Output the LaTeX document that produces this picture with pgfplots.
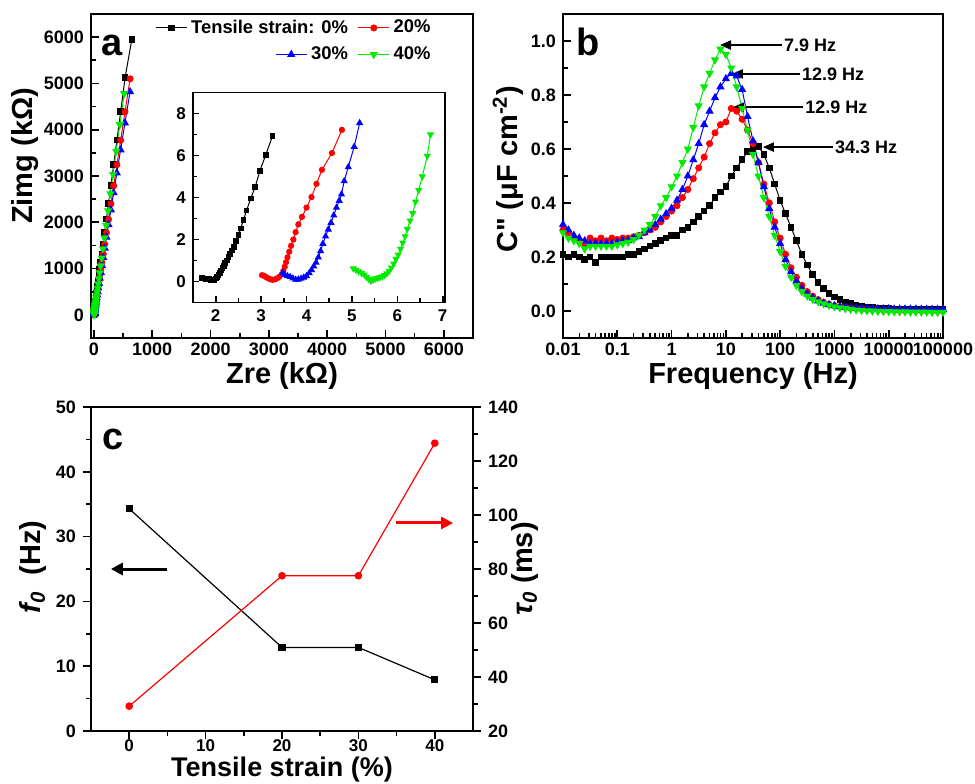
\documentclass[border=0pt]{standalone}
\usepackage{fontspec}
\setmainfont{Liberation Sans}
\newfontfamily\rawsans{Liberation Sans}
\usepackage{pgfplots}
\usepackage{pgfplotstable}
\pgfplotsset{compat=1.18}
\usetikzlibrary{arrows.meta}

\newcommand\tickfont{\bfseries\fontsize{9}{10}\selectfont}
\newcommand\labfont{\bfseries\fontsize{14.5}{16}\selectfont}
\newcommand\letfont{\bfseries\fontsize{19}{20}\selectfont}
\newcommand\annfont{\bfseries\fontsize{9}{10}\selectfont}
\newcommand\legfont{\bfseries\fontsize{9.2}{10}\selectfont}

\definecolor{cR}{RGB}{255,0,0}
\definecolor{cB}{RGB}{0,0,255}
\definecolor{cG}{RGB}{0,235,0}

\pgfplotsset{
  panel/.style={
    scale only axis,
    /pgf/number format/assume math mode=true,
    /pgf/number format/1000 sep={},
    ticklabel style={font=\tickfont},
    label style={font=\labfont},
    axis line style={line width=1pt},
    every tick/.style={black, line width=0.8pt},
    major tick length=4pt,
    minor tick length=2.5pt,
    tick align=inside,
  },
  s0/.style={black, line width=0.5pt, mark=square*, mark size=1.4pt},
  s20/.style={cR, line width=0.5pt, mark=*, mark size=1.5pt},
  s30/.style={cB, line width=0.5pt, mark=triangle*, mark size=1.9pt},
  s40/.style={cG, line width=0.5pt, mark=triangle*, mark size=1.9pt, mark options={rotate=180}},
  shortleg/.style={
    legend image code/.code={\draw[mark repeat=2,mark phase=2] plot coordinates {(0cm,0cm) (0.27cm,0cm) (0.54cm,0cm)};}},
}

% C'' spectra, f in Hz
\pgfplotstableread{
f C0 C20 C30 C40
1e-2 0.21 0.30 0.32 0.29
1.259e-2 0.20 0.29 0.30 0.27
1.585e-2 0.21 0.27 0.28 0.26
1.995e-2 0.20 0.26 0.27 0.25
2.512e-2 0.19 0.25 0.26 0.23
3.162e-2 0.20 0.27 0.25 0.24
3.981e-2 0.18 0.26 0.25 0.24
5.012e-2 0.20 0.27 0.25 0.24
6.310e-2 0.20 0.26 0.25 0.24
7.943e-2 0.20 0.27 0.25 0.24
1e-1 0.20 0.265 0.255 0.245
1.259e-1 0.20 0.27 0.26 0.25
1.585e-1 0.21 0.27 0.26 0.255
1.995e-1 0.21 0.275 0.27 0.265
2.512e-1 0.22 0.28 0.275 0.28
3.162e-1 0.23 0.29 0.29 0.30
3.981e-1 0.24 0.30 0.30 0.32
5.012e-1 0.25 0.31 0.32 0.35
6.310e-1 0.26 0.33 0.34 0.39
7.943e-1 0.27 0.35 0.36 0.42
1 0.28 0.37 0.38 0.46
1.259 0.28 0.39 0.41 0.50
1.585 0.30 0.42 0.45 0.55
1.995 0.31 0.45 0.50 0.60
2.512 0.33 0.49 0.56 0.68
3.162 0.35 0.53 0.62 0.76
3.981 0.37 0.57 0.69 0.83
5.012 0.39 0.62 0.74 0.88
6.310 0.42 0.66 0.79 0.93
7.943 0.44 0.69 0.83 0.97
10 0.46 0.70 0.86 0.95
12.59 0.50 0.75 0.88 0.90
15.85 0.53 0.74 0.87 0.83
19.95 0.56 0.71 0.82 0.75
25.12 0.59 0.67 0.72 0.67
31.62 0.60 0.62 0.63 0.58
39.81 0.61 0.55 0.55 0.50
50.12 0.58 0.47 0.46 0.42
63.10 0.53 0.40 0.38 0.35
79.43 0.47 0.33 0.31 0.28
100 0.41 0.27 0.25 0.22
125.9 0.36 0.21 0.19 0.165
158.5 0.31 0.16 0.145 0.125
199.5 0.26 0.125 0.11 0.095
251.2 0.21 0.095 0.083 0.072
316.2 0.17 0.072 0.063 0.055
398.1 0.135 0.055 0.048 0.043
501.2 0.105 0.042 0.037 0.034
631.0 0.083 0.032 0.029 0.027
794.3 0.065 0.025 0.023 0.021
1000 0.052 0.020 0.019 0.016
1259 0.042 0.016 0.016 0.012
1585 0.034 0.013 0.014 0.009
1995 0.027 0.011 0.012 0.006
2512 0.022 0.009 0.011 0.004
3162 0.018 0.008 0.010 0.002
3981 0.015 0.007 0.009 0.001
5012 0.013 0.006 0.009 0.000
6310 0.011 0.005 0.008 -0.001
7943 0.010 0.004 0.008 -0.002
10000 0.009 0.004 0.008 -0.002
12590 0.008 0.003 0.007 -0.003
15850 0.008 0.003 0.007 -0.003
19950 0.007 0.002 0.007 -0.003
25120 0.007 0.002 0.007 -0.004
31620 0.006 0.002 0.007 -0.004
39810 0.006 0.001 0.006 -0.004
50120 0.006 0.001 0.006 -0.004
63100 0.005 0.001 0.006 -0.005
79430 0.005 0.000 0.006 -0.005
100000 0.005 0.000 0.006 -0.005
}\spectra

\begin{document}
\begin{tikzpicture}
\useasboundingbox (0,0) rectangle (487.5pt,391.5pt);

% ---------------- panel a ----------------
\begin{axis}[panel, at={(45.5pt,222.5pt)}, anchor=south west,
  width=191pt, height=162pt,
  xmin=-50, xmax=6500, ymin=-500, ymax=6500,
  xtick={0,1000,...,6000}, ytick={0,1000,...,6000}, minor tick num=1,
  xtick pos=bottom, ytick pos=left,
  xticklabel style={yshift=1pt},
  xlabel={Zre (kΩ)}, ylabel={Zimg (kΩ)},
  xlabel style={at={(axis description cs:0.5,-0.117)}, anchor=center},
  ylabel style={at={(axis description cs:-0.173,0.562)}, anchor=center},
  shortleg, legend columns=2,
  legend style={draw=none, fill=none, font=\legfont, anchor=east,
    at={(axis description cs:0.916,0.957)},
    /tikz/every even column/.append style={column sep=3pt}},
]
\addplot[s0] coordinates {(650,5950) (535,5130) (460,4400) (395,3780) (340,3250) (292,2800) (250,2400) (215,2070) (185,1780) (158,1530) (136,1315) (117,1130) (100,975) (86,840) (74,720) (63,620) (54,533) (47,458) (40,394) (34,339) (29,291) (25,251) (21,216) (18,185) (15,160) (13,137) (11,118) (9,101) (8,87) (6,75) (5,60) (4,45) (3,30) (3,18) (2,8) (2,2)};
\addlegendentry{Tensile strain: 0\%}
\addplot[s20] coordinates {(620,5100) (533,4386) (458,3772) (394,3244) (339,2790) (292,2399) (251,2063) (216,1775) (185,1526) (160,1313) (137,1129) (118,971) (101,835) (87,718) (75,618) (65,531) (56,457) (48,393) (41,338) (35,290) (30,250) (26,215) (22,185) (19,159) (17,137) (14,118) (12,101) (11,87) (9,75) (7,60) (6,45) (5,30) (4,18) (3,8) (3,2)};
\addlegendentry{20\%}
\addplot[s30, forget plot] coordinates {(620,4820) (532,4145) (457,3565) (393,3066) (338,2637) (291,2268) (250,1950) (215,1677) (185,1442) (159,1240) (137,1067) (118,918) (101,789) (87,679) (75,584) (64,502) (55,432) (48,371) (41,319) (35,275) (30,236) (26,203) (22,175) (19,150) (17,129) (14,111) (12,96) (11,82) (9,71) (8,58) (6,44) (5,30) (4,18) (4,8) (4,2)};
\addplot[s40, forget plot] coordinates {(520,4780) (445,4110) (382,3535) (328,3040) (282,2615) (243,2249) (209,1934) (180,1663) (155,1430) (133,1230) (114,1058) (98,910) (85,782) (73,673) (63,579) (54,498) (46,428) (40,368) (34,317) (29,272) (25,234) (22,201) (19,173) (16,149) (14,128) (12,110) (10,95) (9,82) (8,70) (7,57) (6,44) (6,30) (6,18) (6,8) (6,2)};
\node[font=\letfont] at (axis description cs:0.055,0.904) {a};
\end{axis}

% second legend row of panel a
\begin{axis}[at={(45.5pt,222.5pt)}, anchor=south west, scale only axis,
  width=191pt, height=162pt, hide axis, xmin=0, xmax=1, ymin=0, ymax=1,
  shortleg, legend columns=2,
  legend style={draw=none, fill=none, font=\legfont, anchor=east,
    at={(axis description cs:0.916,0.875)},
    /tikz/every even column/.append style={column sep=3pt}},
]
\addlegendimage{s30}
\addlegendentry{30\%}
\addlegendimage{s40}
\addlegendentry{40\%}
\end{axis}

% inset of panel a
\begin{axis}[panel, at={(96.5pt,240.25pt)}, anchor=south west,
  width=126pt, height=105pt,
  xmin=1.5, xmax=7.05, ymin=-1, ymax=9,
  xtick={2,3,...,7}, ytick={0,2,...,8}, minor tick num=1,
  xtick pos=bottom, ytick pos=left,
  ticklabel style={font=\bfseries\fontsize{8.5}{9}\selectfont},
  axis line style={line width=0.7pt},
  major tick length=3pt, minor tick length=2pt,
]
\addplot[s0, mark size=1.2pt] coordinates {(1.70,0.15) (1.74,0.14) (1.78,0.13) (1.82,0.13) (1.86,0.12) (1.90,0.08) (1.94,0.05) (1.97,0.08) (2.00,0.14) (2.03,0.22) (2.06,0.31) (2.09,0.41) (2.12,0.52) (2.15,0.63) (2.18,0.75) (2.21,0.87) (2.24,1.00) (2.28,1.15) (2.32,1.32) (2.36,1.48) (2.40,1.65) (2.45,1.93) (2.50,2.20) (2.55,2.52) (2.61,2.92) (2.68,3.38) (2.77,3.95) (2.87,4.50) (2.97,5.25) (3.10,6.02) (3.25,6.92)};
\addplot[s20, mark size=1.3pt] coordinates {(3.02,0.30) (3.06,0.28) (3.10,0.22) (3.15,0.16) (3.20,0.11) (3.25,0.08) (3.30,0.10) (3.35,0.15) (3.40,0.22) (3.45,0.33) (3.49,0.50) (3.52,0.70) (3.55,0.92) (3.58,1.15) (3.62,1.42) (3.66,1.70) (3.71,2.00) (3.76,2.35) (3.82,2.72) (3.90,3.08) (4.00,3.52) (4.11,4.02) (4.22,4.65) (4.34,5.32) (4.56,6.12) (4.78,7.22)};
\addplot[s30, mark size=1.6pt] coordinates {(3.47,0.40) (3.52,0.32) (3.58,0.26) (3.64,0.22) (3.70,0.15) (3.76,0.09) (3.82,0.10) (3.88,0.14) (3.94,0.19) (4.00,0.26) (4.06,0.40) (4.11,0.55) (4.16,0.72) (4.21,0.90) (4.26,1.15) (4.31,1.45) (4.36,1.80) (4.42,2.15) (4.48,2.48) (4.54,2.80) (4.60,3.15) (4.66,3.52) (4.72,3.85) (4.77,4.15) (4.83,4.78) (4.92,5.45) (5.05,6.42) (5.17,7.55)};
\addplot[s40, mark size=1.6pt] coordinates {(5.03,0.62) (5.09,0.55) (5.15,0.48) (5.21,0.40) (5.27,0.32) (5.32,0.22) (5.37,0.12) (5.42,0.03) (5.47,0.08) (5.52,0.14) (5.57,0.17) (5.62,0.20) (5.67,0.24) (5.72,0.30) (5.77,0.38) (5.82,0.50) (5.87,0.66) (5.92,0.85) (5.97,1.07) (6.02,1.28) (6.07,1.55) (6.12,1.85) (6.17,2.15) (6.22,2.50) (6.28,2.90) (6.34,3.25) (6.40,3.80) (6.47,4.35) (6.55,5.00) (6.66,5.98) (6.73,7.00)};
\end{axis}

% ---------------- panel b ----------------
\begin{axis}[panel, at={(281.5pt,222.5pt)}, anchor=south west,
  width=190pt, height=162pt,
  xmode=log, xmin=0.01, xmax=100000, ymin=-0.1, ymax=1.1,
  xtick={0.01,0.1,1,10,100,1000,10000,100000},
  xticklabels={0.01,0.1,1,10,100,1000,10000,100000},
  xticklabel style={yshift=1pt},
  ytick={0,0.2,...,1.0}, minor ytick={0.1,0.3,0.5,0.7,0.9},
  yticklabel style={/pgf/number format/fixed, /pgf/number format/fixed zerofill, /pgf/number format/precision=1},
  xtick pos=bottom, ytick pos=left,
  xlabel={Frequency (Hz)}, ylabel={C{\rawsans\symbol{34}} (μF cm\textsuperscript{-2})},
  xlabel style={at={(axis description cs:0.5,-0.117)}, anchor=center},
  ylabel style={at={(axis description cs:-0.145,0.52)}, anchor=center},
]
\addplot[s0] table[x=f, y=C0] {\spectra};
\addplot[s20] table[x=f, y=C20] {\spectra};
\addplot[s30] table[x=f, y=C30] {\spectra};
\addplot[s40] table[x=f, y=C40] {\spectra};
\begin{scope}[line width=1pt, -{Triangle[length=5.5pt,width=4.5pt]}]
\draw (axis cs:107,0.985) -- (axis cs:7.8,0.985);
\draw (axis cs:229,0.878) -- (axis cs:12.9,0.878);
\draw (axis cs:263,0.755) -- (axis cs:13.5,0.755);
\draw (axis cs:933,0.607) -- (axis cs:48,0.607);
\end{scope}
\node[font=\annfont, anchor=west, inner sep=1pt] at (axis cs:107,0.985) {7.9 Hz};
\node[font=\annfont, anchor=west, inner sep=1pt] at (axis cs:229,0.878) {12.9 Hz};
\node[font=\annfont, anchor=west, inner sep=1pt] at (axis cs:263,0.755) {12.9 Hz};
\node[font=\annfont, anchor=west, inner sep=1pt] at (axis cs:933,0.607) {34.3 Hz};
\node[font=\letfont] at (axis description cs:0.066,0.914) {b};
\end{axis}

% ---------------- panel c ----------------
\begin{axis}[panel, at={(45.5pt,26pt)}, anchor=south west,
  width=191pt, height=162pt,
  xmin=-5, xmax=45, ymin=0, ymax=50,
  xtick={0,10,...,40}, ytick={0,10,...,50}, minor tick num=1,
  xtick pos=bottom, ytick pos=left, tick align=outside,
  xticklabel style={yshift=3pt, font=\bfseries\fontsize{8.5}{9}\selectfont},
  xlabel={Tensile strain (\%)}, ylabel={{\itshape f\textsubscript{0}}\ \ (Hz)},
  xlabel style={at={(axis description cs:0.5,-0.118)}, anchor=center, font=\bfseries\fontsize{13.5}{14}\selectfont},
  ylabel style={at={(axis description cs:-0.152,0.506)}, anchor=center},
]
\addplot[black, line width=0.6pt, mark=square*, mark size=1.5pt] coordinates {(0,34.3) (20,12.9) (30,12.9) (40,7.9)};
\draw[line width=1.5pt, -{Triangle[length=6pt,width=6pt]}] (axis cs:5,25) -- (axis cs:-2.4,25);
\draw[cR, line width=1.5pt, -{Triangle[length=6pt,width=6pt]}] (axis cs:34.9,32.1) -- (axis cs:42.4,32.1);
\node[font=\letfont] at (axis description cs:0.058,0.901) {c};
\end{axis}
\begin{axis}[panel, at={(45.5pt,26pt)}, anchor=south west,
  width=191pt, height=162pt,
  xmin=-5, xmax=45, ymin=20, ymax=140,
  axis x line=none, axis y line*=right, tick align=outside,
  ytick={20,40,...,140}, minor y tick num=1,
  ylabel={{\itshape τ\textsubscript{0}} (ms)},
  ylabel style={at={(axis description cs:1.136,0.5)}, anchor=center},
]
\addplot[cR, line width=0.6pt, mark=*, mark size=1.6pt] coordinates {(0,29.2) (20,77.5) (30,77.5) (40,126.6)};
\end{axis}
\end{tikzpicture}
\end{document}
